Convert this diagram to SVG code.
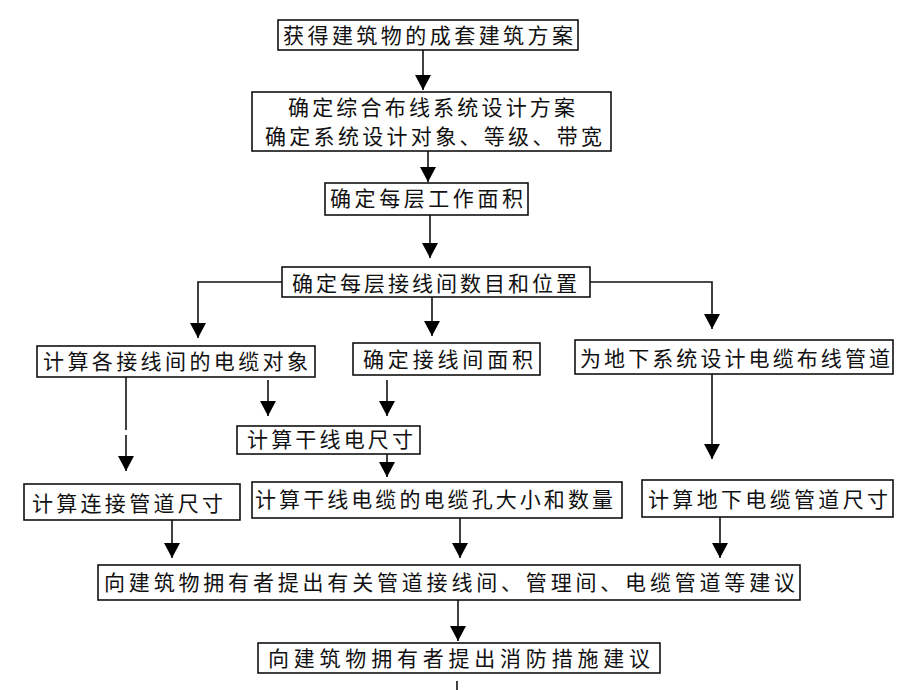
<svg xmlns="http://www.w3.org/2000/svg" width="920" height="690" viewBox="0 0 920 690">
<style>
.box{fill:#fff;stroke:#111;stroke-width:1.6}
.t{font-family:"Noto Sans CJK SC","Noto Sans CJK TC",sans-serif;font-size:21px;fill:#111}
.c{fill:none;stroke:#111;stroke-width:1.6}
.a{marker-end:url(#ah)}
</style>
<defs>
<marker id="ah" markerUnits="userSpaceOnUse" markerWidth="16" markerHeight="16" viewBox="0 0 16 16" refX="15" refY="8" orient="auto">
<path d="M0,0 L15,8 L0,16 z" fill="#000"/>
</marker>
</defs>
<rect width="920" height="690" fill="#fff"/>
<g id="connectors">
<path class="c a" d="M423,50 V90"/>
<path class="c a" d="M428,151 V182"/>
<path class="c a" d="M430,215 V258"/>
<path class="c a" d="M282,282 H198 V338"/>
<path class="c a" d="M590,282 H712 V329"/>
<path class="c a" d="M432,297 V336"/>
<path class="c" d="M126,377 V430"/>
<path class="c a" d="M126,435 V471"/>
<path class="c a" d="M268,380 V416"/>
<path class="c a" d="M387,380 V416"/>
<path class="c a" d="M387,454 V477"/>
<path class="c a" d="M712,374 V459"/>
<path class="c a" d="M172,520 V558"/>
<path class="c a" d="M460,518 V558"/>
<path class="c a" d="M720,517 V558"/>
<path class="c a" d="M458,600 V641"/>
<path class="c" d="M457,681 V690"/>
</g>
<g id="n1"><rect class="box" x="278" y="20" width="300" height="30"/><text class="t" x="283" y="43" textLength="290" lengthAdjust="spacing">获得建筑物的成套建筑方案</text></g>
<g id="n2"><rect class="box" x="252" y="92" width="359" height="59"/><text class="t" x="288" y="115" textLength="287" lengthAdjust="spacing">确定综合布线系统设计方案</text><text class="t" x="265" y="144" textLength="337" lengthAdjust="spacing">确定系统设计对象、等级、带宽</text></g>
<g id="n3"><rect class="box" x="325" y="183" width="203" height="32"/><text class="t" x="330" y="206" textLength="193" lengthAdjust="spacing">确定每层工作面积</text></g>
<g id="n4"><rect class="box" x="282" y="267" width="308" height="30"/><text class="t" x="292" y="291" textLength="285" lengthAdjust="spacing">确定每层接线间数目和位置</text></g>
<g id="n5"><rect class="box" x="37" y="346" width="278" height="31"/><text class="t" x="43" y="369" textLength="265" lengthAdjust="spacing">计算各接线间的电缆对象</text></g>
<g id="n6"><rect class="box" x="353" y="343" width="187" height="32"/><text class="t" x="363" y="367" textLength="170" lengthAdjust="spacing">确定接线间面积</text></g>
<g id="n7"><rect class="box" x="575" y="340" width="318" height="34"/><text class="t" x="580" y="366" textLength="310" lengthAdjust="spacing">为地下系统设计电缆布线管道</text></g>
<g id="n8"><rect class="box" x="237" y="426" width="183" height="28"/><text class="t" x="247" y="447" textLength="166" lengthAdjust="spacing">计算干线电尺寸</text></g>
<g id="n9"><rect class="box" x="24" y="484" width="216" height="36"/><text class="t" x="32" y="511" textLength="191" lengthAdjust="spacing">计算连接管道尺寸</text></g>
<g id="n10"><rect class="box" x="252" y="482" width="370" height="36"/><text class="t" x="255" y="507" textLength="358" lengthAdjust="spacing">计算干线电缆的电缆孔大小和数量</text></g>
<g id="n11"><rect class="box" x="642" y="480" width="251" height="37"/><text class="t" x="648" y="507" textLength="240" lengthAdjust="spacing">计算地下电缆管道尺寸</text></g>
<g id="n12"><rect class="box" x="98" y="565" width="702" height="35"/><text class="t" x="104" y="590" textLength="691" lengthAdjust="spacing">向建筑物拥有者提出有关管道接线间、管理间、电缆管道等建议</text></g>
<g id="n13"><rect class="box" x="258" y="643" width="402" height="30"/><text class="t" x="268" y="666" textLength="382" lengthAdjust="spacing">向建筑物拥有者提出消防措施建议</text></g>
</svg>
